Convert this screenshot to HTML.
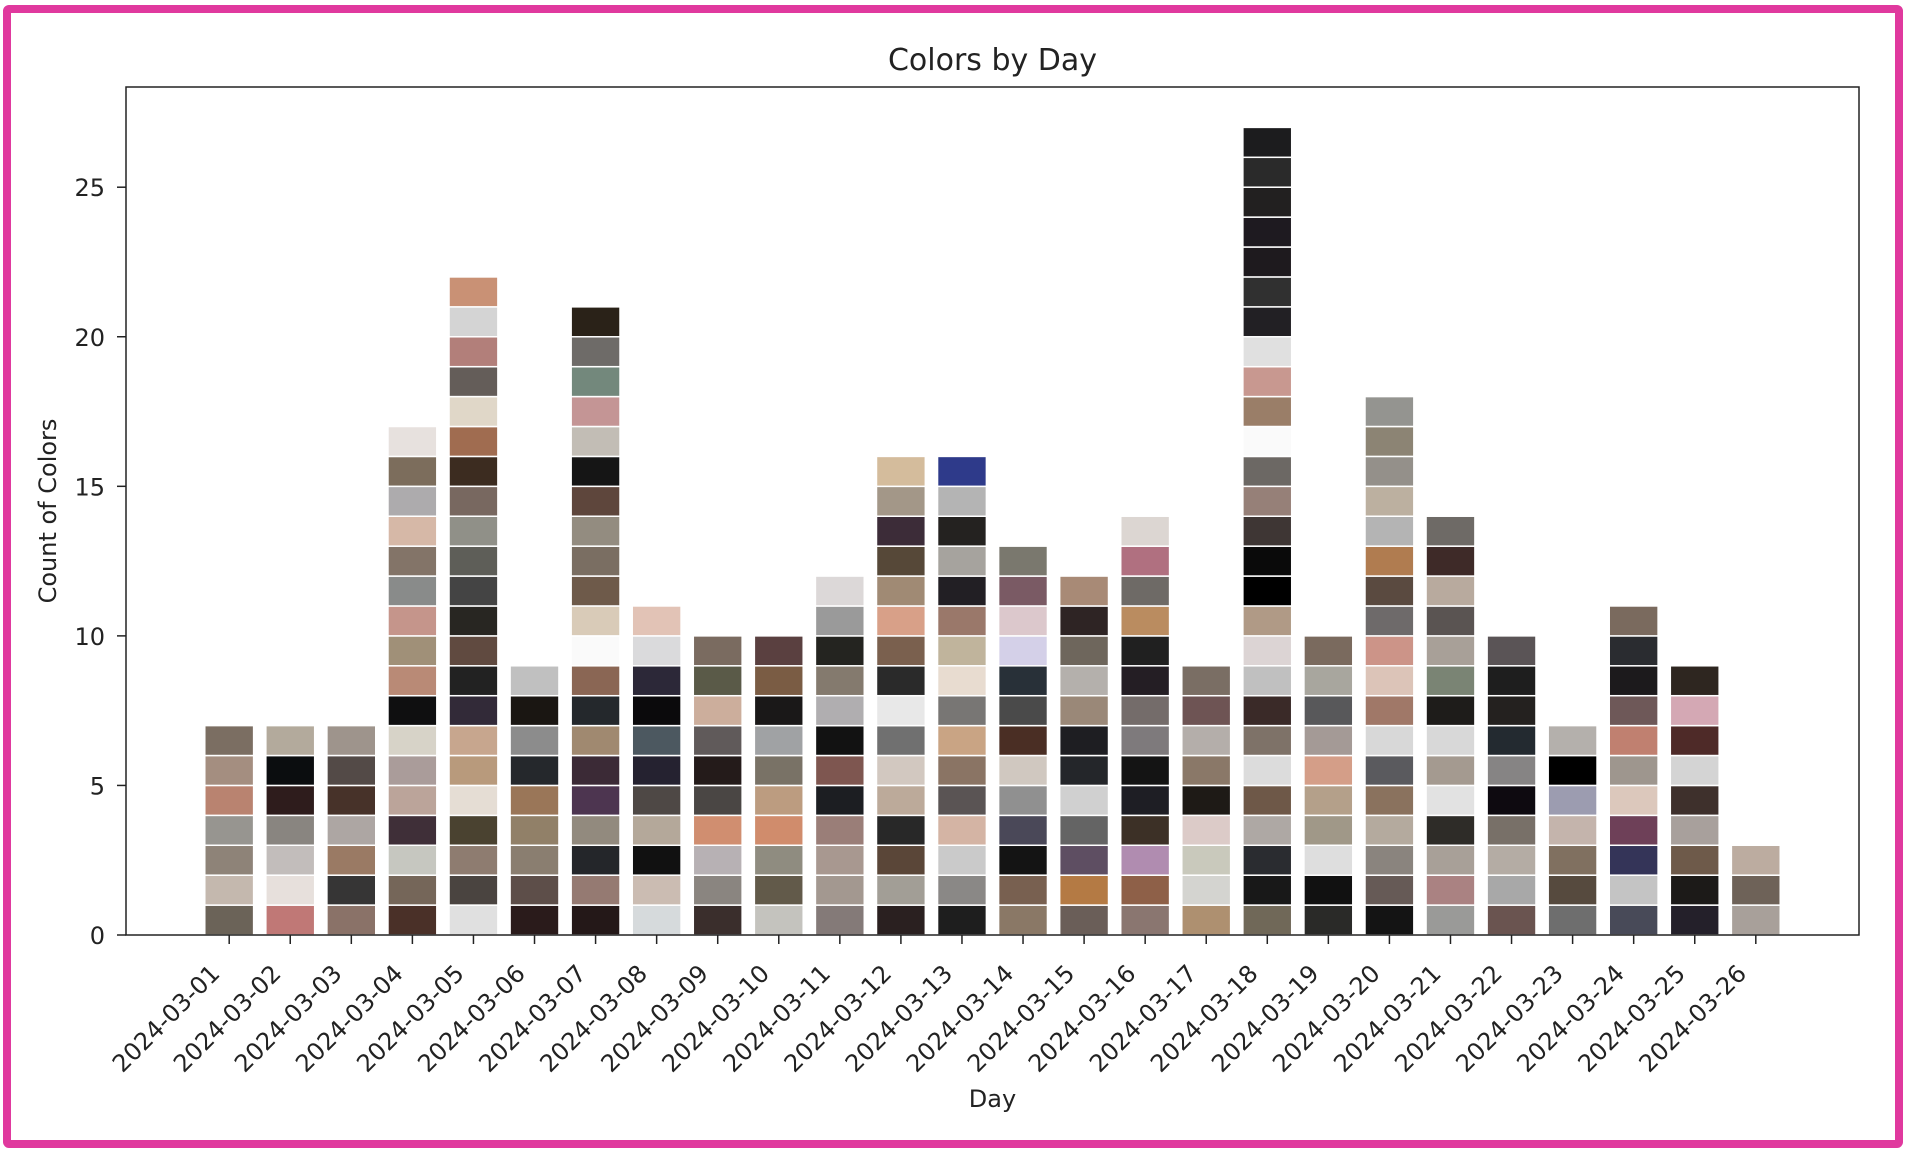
<!DOCTYPE html>
<html><head><meta charset="utf-8"><style>
html,body{margin:0;padding:0;background:#fff;width:1905px;height:1151px;overflow:hidden}
#frame{position:absolute;left:3px;top:5px;width:1884px;height:1127px;border:8px solid #e0399e;border-radius:6px}
svg{position:absolute;left:0;top:0}
text{font-family:"DejaVu Sans","Liberation Sans",sans-serif;fill:#222}
</style></head><body>
<div id="frame"></div>
<svg id="chart" width="1905" height="1151"></svg>
<script>
const days=["2024-03-01","2024-03-02","2024-03-03","2024-03-04","2024-03-05","2024-03-06","2024-03-07","2024-03-08","2024-03-09","2024-03-10","2024-03-11","2024-03-12","2024-03-13","2024-03-14","2024-03-15","2024-03-16","2024-03-17","2024-03-18","2024-03-19","2024-03-20","2024-03-21","2024-03-22","2024-03-23","2024-03-24","2024-03-25","2024-03-26"];
const counts=[7,7,7,17,22,9,21,11,10,10,12,16,16,13,12,14,9,27,10,18,14,10,7,11,9,3];
const yTicks=[0,5,10,15,20,25];
const colors=[
["6b6358","c4b8ae","8e8378","979590","b98370","a48e80","7b6e62"],
["c07876","e7e0dc","c2bdbb","898580","2e1c1c","0b0d0f","b3aa9c"],
["8a7268","363535","9a7a64","ada6a3","473229","534a47","9e948c"],
["4a3028","756659","c6c7c0","3f2f38","bba49a","aa9c9a","d7d3c8","0f0f10","b98a76","a09078","c5958b","898b8a","837468","d6b8a7","adabad","7c6d5c","e7e1de"],
["e0e0e0","4a4440","8e7c70","4a4230","e5ddd4","b89a7c","c7a68e","322a38","222222","604a40","282622","444444","5e5e58","909088","786860","3c2c20","a06c50","e0d7c8","645d59","b27f7a","d4d4d4","c99175"],
["2a1b1b","5d4e49","8a7e70","918068","9a7658","25282c","8c8c8c","1a1612","c0c0c0"],
["241818","957a72","24262a","928a7e","4d3550","3b2a36","a08970","24282c","8a6654","fafafa","d9cbb8","6e5a4a","7a6e62","938c80","5e463c","151515","c2bdb5","c49595","73887c","6e6b68","2a2218"],
["d6dadc","cbbcb2","111111","b4a89a","4e4845","252230","4c5860","0b0a0c","2c2838","dadadc","e2c3b6"],
["3a2e2c","8a8580","b7b1b4","d08e70","4a4644","241b1a","605a5a","ccae9c","5a5a48","7a6b60"],
["c4c3be","625a4a","8f8c80","d08c6c","bc9c80","797266","a0a2a4","1a1818","7a5c44","5a4040"],
["847a78","a39890","a89890","9a7e78","1c1e22","7e5650","121212","b0aeb0","847a6e","242420","9a9a9a","dcd8d8"],
["2a2020","a29e96","5a4638","282828","bcaa9a","d2c8c0","707070","e8e8e8","2a2a2a","7a604e","d8a088","a08a74","564838","3c2c38","a39788","d4bc9c"],
["1e1e1e","8a8886","cacaca","d4b4a4","5a5454","8a7464","c9a484","787674","e8dcd0","c0b49c","9a786a","221f24","a6a39e","242220","b4b4b4","2e3a8a"],
["8a7866","786050","141414","4a4858","909090","d0c8c0","4a2e24","4a4a4a","283038","d4d0e8","dcc8cc","7a5a64","7a786e"],
["6a5e58","b47a44","5e4e62","646464","d0d0d0","24262a","1e1e22","9a8878","b4b0ac","6e665c","2e2424","a88a76"],
["8a7670","8e6048","b08cb0","3c3026","1e1e24","141414","7e7a7c","746c6a","241e24","202020","ba8c60","6e6a66","b07080","dcd6d2"],
["ae9070","d4d4d0","c9c9bc","dccbc8","1e1a16","8a7868","b4aeaa","6e5454","7a6e64"],
["706858","181818","2a2c30","aea8a4","6e5848","dcdcdc","7e7268","3a2a28","c0c0c0","dcd4d4","b09a86","000000","0a0a0a","3e3634","968078","6c6864","fafafa","9a7e68","c89890","e0e0e0","222024","303030","1e1a1e","1e1a20","222020","2a2a2a","1c1c1e"],
["2a2a28","111111","dedede","a09888","b4a08a","d49e88","a49a96","58585a","a8a69e","7a6a5e"],
["141414","665a56","8a847e","b4aa9e","8a725e","5a5a5e","d8d8d8","a07868","dcc4b8","cc9488","6e6a6a","5a4a40","b07c50","b4b4b4","bcb0a0","94908a","8c8474","949490"],
["9a9a98","aa8282","a8a098","2e2c28","e2e2e2","a49a90","d8d8d8","1e1c1a","7a8474","a8a098","5a5452","b8aa9e","3e2a28","6e6a66"],
["6a5450","a8a8a8","b4aca4","787068","0e0a10","868484","232a30","24211f","1e1e1e","5a5456"],
["6e6e6e","564a3e","807060","c4b4ac","9c9cb0","000000","b4b0ac"],
["484a58","c4c4c4","343458","6e4058","dcc8bc","9e968e","c08070","6e5858","1c1a1c","2a2c30","7a6a5e"],
["24202a","1c1a18","6e5a4a","a8a09c","3e302c","d4d4d4","4e2a28","d4a8b4","2e2620"],
["a8a09a","6e6258","bcaca0"]
];
const NS="http://www.w3.org/2000/svg";
const svg=document.getElementById('chart');
const L=126,R=1859,T=87,B=935;
const n=days.length;
const maxC=Math.max(...counts);
const xMin=-0.4-0.05*(n-0.2), xMax=(n-1)+0.4+0.05*(n-0.2);
const yMax=maxC*1.05;
const xs=v=>L+(v-xMin)/(xMax-xMin)*(R-L);
const ys=v=>B-v/yMax*(B-T);
function el(tag,attrs,parent){const e=document.createElementNS(NS,tag);for(const k in attrs)e.setAttribute(k,attrs[k]);(parent||svg).appendChild(e);return e;}
const bars=el('g',{});


const bw=0.8*(R-L)/(xMax-xMin);
for(let i=0;i<n;i++){
  const g=el('g',{},bars);
  
  
  const cs=colors[i]||["888888"];
  for(let j=0;j<counts[i];j++){
    const y1=ys(j+1),y0=ys(j);
    const r=el('rect',{x:xs(i)-bw/2,y:y1,width:bw,height:y0-y1,fill:'#'+cs[j%cs.length],stroke:'#fff','stroke-width':1.5},g);
    
    
  }
}
const frame=el('rect',{x:L,y:T,width:R-L,height:B-T,fill:'none',stroke:'#222','stroke-width':1.5});


yTicks.forEach(v=>{
  const y=ys(v);
  el('line',{x1:L-9,x2:L,y1:y,y2:y,stroke:'#222','stroke-width':1.5});
  const t=el('text',{x:L-21,y:y+9,'text-anchor':'end','font-size':24});
  t.textContent=v;
  
  
});
days.forEach((d,i)=>{
  const x=xs(i);
  el('line',{x1:x,x2:x,y1:B,y2:B+9,stroke:'#222','stroke-width':1.5});
  const px=x-8,py=B+40;
  const t=el('text',{x:px,y:py,'text-anchor':'end','font-size':24,transform:`rotate(-45 ${px} ${py})`});
  t.textContent=d;
  
  
});
const title=el('text',{x:(L+R)/2,y:70,'text-anchor':'middle','font-size':30});
title.textContent='Colors by Day';


const xl=el('text',{x:(L+R)/2,y:1107,'text-anchor':'middle','font-size':24});
xl.textContent='Day';


const yl=el('text',{x:56,y:(T+B)/2,'text-anchor':'middle','font-size':24,transform:`rotate(-90 56 ${(T+B)/2})`});
yl.textContent='Count of Colors';


</script>
</body></html>
